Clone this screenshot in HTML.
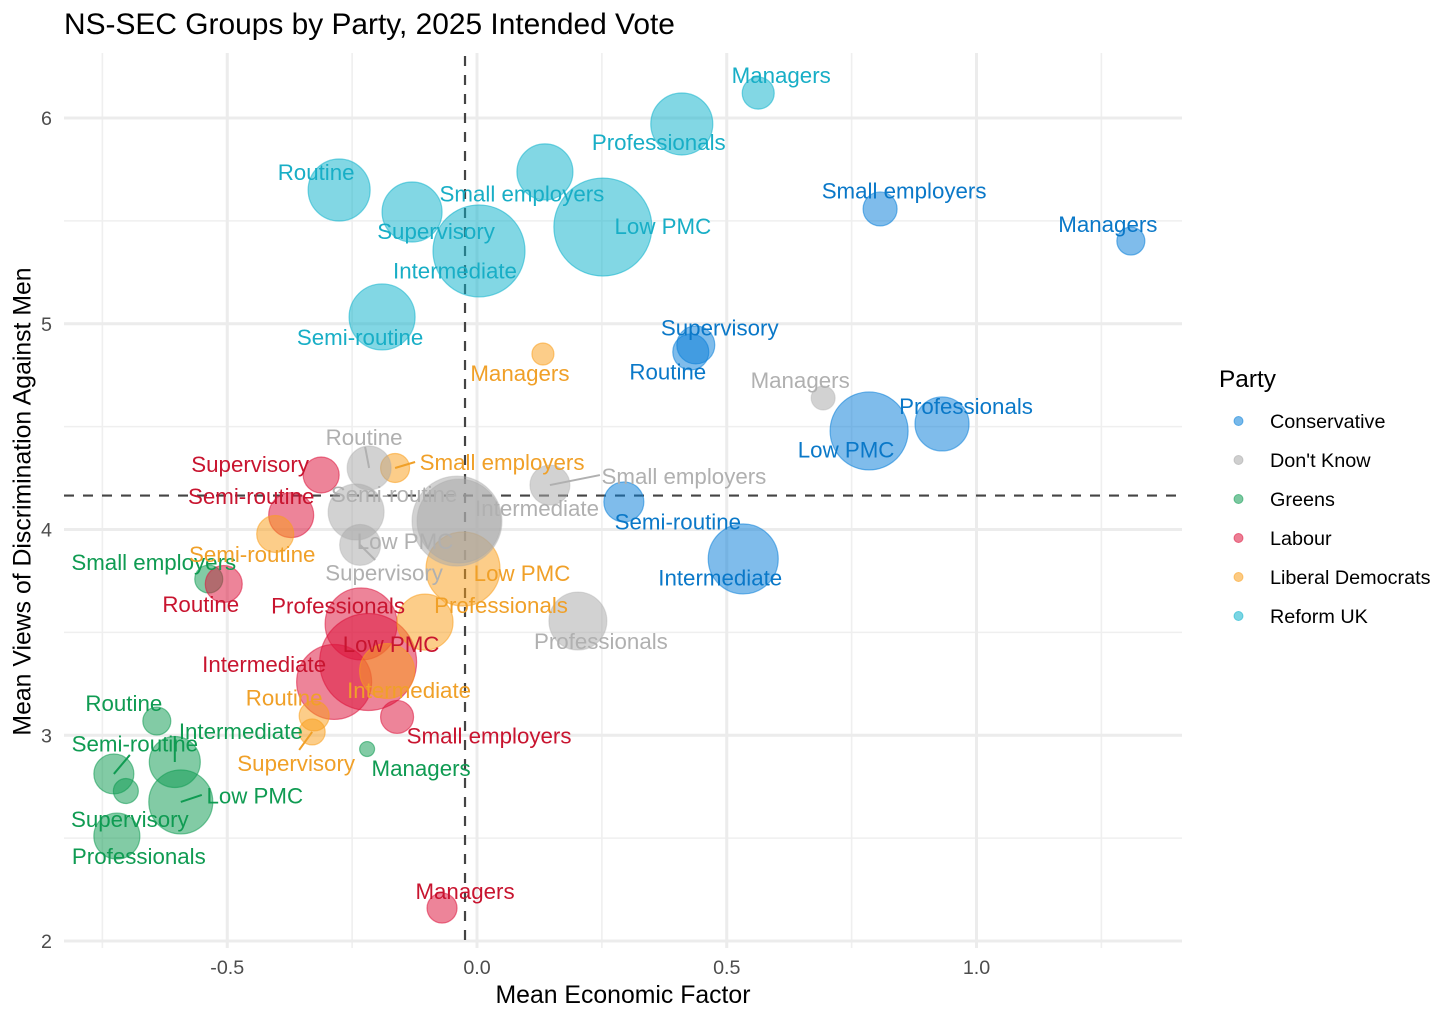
<!DOCTYPE html>
<html lang="en">
<head>
<meta charset="utf-8">
<title>NS-SEC Groups by Party, 2025 Intended Vote</title>
<style>
  html, body { margin: 0; padding: 0; background: #fff; }
  body { width: 1456px; height: 1020px; overflow: hidden; font-family: "Liberation Sans", Arial, sans-serif; }
  svg { display: block; }
  text { font-family: "Liberation Sans", Arial, sans-serif; }
</style>
</head>
<body>
<svg id="chart" width="1456" height="1020" viewBox="0 0 1456 1020" xmlns="http://www.w3.org/2000/svg">
  <text x="64" y="34" font-size="29.9" fill="#000">NS-SEC Groups by Party, 2025 Intended Vote</text>
  <g id="grid"></g>
  <g id="xticks"></g>
  <g id="yticks"></g>
  <g id="refs"></g>
  <g id="bubbles"></g>
  <g id="segments"></g>
  <g id="labels"></g>
  <text x="623" y="1003" font-size="24.8" text-anchor="middle" fill="#000">Mean Economic Factor</text>
  <text transform="translate(30.5,501.5) rotate(-90)" font-size="24.8" text-anchor="middle" fill="#000">Mean Views of Discrimination Against Men</text>
  <g id="legend">
    <text x="1219" y="387" font-size="24.4" fill="#000">Party</text>
  </g>
</svg>
<script>
// ---- Data ----
const groups = ["Managers", "Professionals", "Small employers", "Low PMC", "Intermediate", "Routine", "Semi-routine", "Supervisory"];
const parties = ["Conservative", "Don't Know", "Greens", "Labour", "Liberal Democrats", "Reform UK"];

const xTickValues = [-0.5, 0, 0.5, 1];
const xTickLabels = ["-0.5", "0.0", "0.5", "1.0"];
const xMinorValues = [-0.75, -0.25, 0.25, 0.75, 1.25];
const yTickValues = [2, 3, 4, 5, 6];
const yTickLabels = ["2", "3", "4", "5", "6"];
const yMinorValues = [2.5, 3.5, 4.5, 5.5];

const meanEconomicX = -0.024;
const meanDiscriminationY = 4.165;

// Mean economic factor, by group order
const conservativeX = [1.309, 0.931, 0.807, 0.785, 0.533, 0.428, 0.294, 0.438];
const dontKnowX = [0.693, 0.202, 0.146, -0.036, -0.040, -0.216, -0.242, -0.234];
const greensX = [-0.220, -0.721, -0.537, -0.593, -0.605, -0.641, -0.727, -0.703];
const labourX = [-0.070, -0.232, -0.160, -0.218, -0.286, -0.507, -0.372, -0.312];
const libDemX = [0.132, -0.104, -0.164, -0.028, -0.180, -0.326, -0.404, -0.330];
const reformX = [0.563, 0.410, 0.136, 0.252, 0.004, -0.276, -0.190, -0.130];

// Mean views of discrimination against men
const conservativeY = [5.402, 4.513, 5.558, 4.479, 3.857, 4.863, 4.134, 4.897];
const dontKnowY = [4.639, 3.555, 4.216, 4.041, 4.041, 4.299, 4.085, 3.925];
const greensY = [2.933, 2.510, 3.759, 2.676, 2.870, 3.069, 2.812, 2.729];
const labourY = [2.160, 3.541, 3.089, 3.356, 3.259, 3.735, 4.070, 4.265];
const libDemY = [4.853, 3.550, 4.299, 3.808, 3.312, 3.094, 3.978, 3.016];
const reformY = [6.121, 5.971, 5.738, 5.470, 5.354, 5.650, 5.033, 5.543];

// Bubble size (relative group size)
const conservativeSize = [196, 729, 289, 1521, 1225, 324, 400, 361];
const dontKnowSize = [144, 841, 400, 1764, 2025, 484, 784, 420];
const greensSize = [56, 529, 196, 1024, 650, 196, 400, 156];
const labourSize = [225, 1296, 272, 2352, 1406, 342, 506, 324];
const libDemSize = [121, 784, 210, 1369, 756, 225, 342, 169];
const reformSize = [256, 961, 784, 2401, 2116, 961, 1089, 900];

// ---- Scales and styling ----
const scaleX = v => 477 + v * 499.5;
const scaleY = v => 941 - (v - 2) * 205.75;
const scaleR = v => Math.sqrt(v);

const PANEL = { left: 64, right: 1182, top: 53, bottom: 948 };

const seriesStyles = [
  { key: "conservative", fill: "#0A7FD9", label: "#0A78C8", strokeOpacity: 0.55, x: conservativeX, y: conservativeY, size: conservativeSize,
    offsets: [[-23,-16],[24,-17],[24,-17],[-23,20],[-23,20],[-23,21],[54,21],[24,-16]] },
  { key: "greens", fill: "#0F9B52", label: "#0F9B52", strokeOpacity: 0.55, x: greensX, y: greensY, size: greensSize,
    offsets: [[54,20],[22,21],[-55,-16],[74,-5],[66,-30],[-33,-17],[21,-29],[4,29]] },
  { key: "labour", fill: "#DC143C", label: "#C8142F", strokeOpacity: 0.55, x: labourX, y: labourY, size: labourSize,
    offsets: [[23,-16],[-23,-17],[92,20],[23,-17],[-70,-17],[-23,21],[-40,-18],[-71,-10]] },
  { key: "liberal-democrats", fill: "#FA9F1C", label: "#F0A028", strokeOpacity: 0.55, x: libDemX, y: libDemY, size: libDemSize,
    offsets: [[-23,20],[76,-16],[107,-5],[59,5],[22,20],[-30,-17],[-23,21],[-16,32]] },
  { key: "dont-know", fill: "#A8A8A8", label: "#B0B0B0", strokeOpacity: 0.35, x: dontKnowX, y: dontKnowY, size: dontKnowSize,
    offsets: [[-23,-17],[23,21],[134,-8],[-54,21],[80,-12],[-5,-30],[38,-17],[24,29]] },
  { key: "reform-uk", fill: "#0FB2CC", label: "#18AEC6", strokeOpacity: 0.55, x: reformX, y: reformY, size: reformSize,
    offsets: [[23,-17],[-23,19],[-23,23],[60,0],[-24,21],[-23,-17],[-22,21],[24,20]] }
];

const legendFills = ["#0A7FD9", "#A8A8A8", "#0F9B52", "#DC143C", "#FA9F1C", "#0FB2CC"];

// Connector lines: series index, group index, far end relative to the point
const connectors = [
  [4, 5, -4, -21], [4, 2, 50, -10], [4, 7, 15, 15],
  [3, 2, 20, -6], [3, 7, -13, 18],
  [1, 6, 16, -19], [1, 4, 0, -26], [1, 3, 21, -7]
];

const NS = "http://www.w3.org/2000/svg";
function make(tag, attrs, parent) {
  const el = document.createElementNS(NS, tag);
  for (const k in attrs) el.setAttribute(k, attrs[k]);
  parent.appendChild(el);
  return el;
}

// ---- Grid ----
const gridG = document.getElementById("grid");
yMinorValues.forEach(v => {
  const l = make("line", { x1: PANEL.left, x2: PANEL.right, y1: scaleY(v), y2: scaleY(v), stroke: "#EFEFEF", "stroke-width": 1.6 }, gridG);
  
  
});
xMinorValues.forEach(v => {
  const l = make("line", { x1: scaleX(v), x2: scaleX(v), y1: PANEL.top, y2: PANEL.bottom, stroke: "#EFEFEF", "stroke-width": 1.6 }, gridG);
  
  
});
yTickValues.forEach(v => {
  const l = make("line", { x1: PANEL.left, x2: PANEL.right, y1: scaleY(v), y2: scaleY(v), stroke: "#ECECEC", "stroke-width": 3 }, gridG);
  
  
});
xTickValues.forEach(v => {
  const l = make("line", { x1: scaleX(v), x2: scaleX(v), y1: PANEL.top, y2: PANEL.bottom, stroke: "#ECECEC", "stroke-width": 3 }, gridG);
  
  
});

// ---- Ticks ----
const xTicksG = document.getElementById("xticks");
xTickValues.forEach((v, i) => {
  const t = make("text", { x: scaleX(v), y: 974, "font-size": 19.7, "text-anchor": "middle", fill: "#4D4D4D" }, xTicksG);
  
  
  t.textContent = xTickLabels[i];
});
const yTicksG = document.getElementById("yticks");
yTickValues.forEach((v, i) => {
  const t = make("text", { x: 52, y: scaleY(v) + 7, "font-size": 19.7, "text-anchor": "end", fill: "#4D4D4D" }, yTicksG);
  
  
  t.textContent = yTickLabels[i];
});

// ---- Reference lines ----
const refsG = document.getElementById("refs");
const vRef = make("line", { x1: scaleX(meanEconomicX), x2: scaleX(meanEconomicX), y1: PANEL.top + 3, y2: PANEL.bottom, stroke: "#444", "stroke-width": 2.2, "stroke-dasharray": "10 9" }, refsG);


const hRef = make("line", { x1: PANEL.left, x2: PANEL.right, y1: scaleY(meanDiscriminationY), y2: scaleY(meanDiscriminationY), stroke: "#444", "stroke-width": 2.2, "stroke-dasharray": "10 9" }, refsG);



// ---- Bubbles ----
const bubblesG = document.getElementById("bubbles");
seriesStyles.forEach(s => {
  groups.forEach((g, i) => {
    const c = make("circle", {
      cx: scaleX(s.x[i]), cy: scaleY(s.y[i]), r: scaleR(s.size[i]),
      fill: s.fill, "fill-opacity": 0.52, stroke: s.fill, "stroke-opacity": s.strokeOpacity, "stroke-width": 1.2
    }, bubblesG);
    
    
  });
});

// ---- Connectors ----
const segmentsG = document.getElementById("segments");
connectors.forEach(con => {
  const s = seriesStyles[con[0]];
  const px = scaleX(s.x[con[1]]);
  const py = scaleY(s.y[con[1]]);
  const l = make("line", { x1: px, y1: py, x2: px + con[2], y2: py + con[3], stroke: s.label, "stroke-width": 2 }, segmentsG);
  
  
});

// ---- Labels ----
const labelsG = document.getElementById("labels");
seriesStyles.forEach(s => {
  groups.forEach((g, i) => {
    const t = make("text", {
      x: scaleX(s.x[i]) + s.offsets[i][0], y: scaleY(s.y[i]) + s.offsets[i][1] + 6.8,
      "font-size": 22.3, "text-anchor": "middle", fill: s.label
    }, labelsG);
    
    
    t.textContent = g;
  });
});

// ---- Legend ----
const legendG = document.getElementById("legend");
parties.forEach((p, i) => {
  const rowY = 421 + i * 39;
  const dot = make("circle", { cx: 1238.5, cy: rowY, r: 4.5, fill: legendFills[i], "fill-opacity": 0.55, stroke: legendFills[i], "stroke-opacity": 0.55, "stroke-width": 1 }, legendG);
  
  
  const t = make("text", { x: 1270, y: rowY + 7, "font-size": 19.8, fill: "#000" }, legendG);
  
  
  t.textContent = p;
});
</script>
</body>
</html>
